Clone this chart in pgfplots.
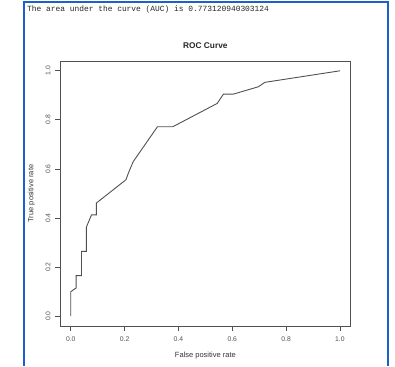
\documentclass[border=0pt]{standalone}
\usepackage{pgfplots}
\pgfplotsset{compat=1.18}
\usepackage{fontspec}
\setmainfont{Liberation Sans}
\newfontfamily\monofont{Liberation Mono}
\definecolor{frameblue}{RGB}{28,96,208}
\definecolor{ink}{RGB}{80,80,80}
\begin{document}
\begin{tikzpicture}
\path[use as bounding box] (0pt,0pt) rectangle (395pt,366pt);
\draw[frameblue, line width=2pt] (24pt,0pt) -- (24pt,363.5pt) -- (387.5pt,363.5pt) -- (387.5pt,0pt);
\node[anchor=west, inner sep=0pt, text=black!85] at (27pt,357pt) {\monofont\fontsize{7.9}{9}\selectfont The area under the curve (AUC) is 0.773120940303124};
\begin{axis}[
  at={(60pt,40pt)}, anchor=south west,
  scale only axis, width=290.7pt, height=265pt,
  xmin=-0.04, xmax=1.04, ymin=-0.04, ymax=1.04,
  xtick={0,0.2,0.4,0.6,0.8,1.0},
  ytick={0,0.2,0.4,0.6,0.8,1.0},
  xticklabels={0.0,0.2,0.4,0.6,0.8,1.0},
  yticklabels={0.0,0.2,0.4,0.6,0.8,1.0},
  xtick pos=bottom, ytick pos=left,
  tick align=outside, major tick length=5pt,
  axis line style={ink, line width=0.8pt},
  every tick/.style={ink, line width=0.8pt},
  tick label style={font=\fontsize{6.8}{8}\selectfont, text=ink},
  xticklabel style={anchor=center, yshift=-8pt},
  yticklabel style={xshift=-7pt, rotate=90, anchor=center},
  title={\textbf{ROC Curve}},
  title style={at={(axis description cs:0.5,1)}, anchor=center, yshift=9pt, font=\fontsize{8.3}{10}\selectfont, text=black!85},
  xlabel={False positive rate},
  ylabel={True positive rate},
  every axis x label/.style={at={(axis description cs:0.5,-0.113)}, anchor=center, font=\fontsize{7.5}{9}\selectfont, text=black!80},
  every axis y label/.style={at={(axis description cs:-0.098,0.5)}, anchor=center, rotate=90, font=\fontsize{7.5}{9}\selectfont, text=black!80},
]
\addplot[ink, line width=0.9pt, mark=none] coordinates {
(0,0) (0,0.10) (0.02,0.115) (0.02,0.165) (0.04,0.165) (0.04,0.264)
(0.058,0.264) (0.058,0.363) (0.077,0.413) (0.095,0.413) (0.095,0.461)
(0.205,0.556) (0.214,0.583) (0.232,0.63) (0.322,0.772) (0.379,0.772)
(0.544,0.867) (0.567,0.905) (0.604,0.905) (0.697,0.935) (0.721,0.953) (1,1)
};
\end{axis}
\end{tikzpicture}
\end{document}
